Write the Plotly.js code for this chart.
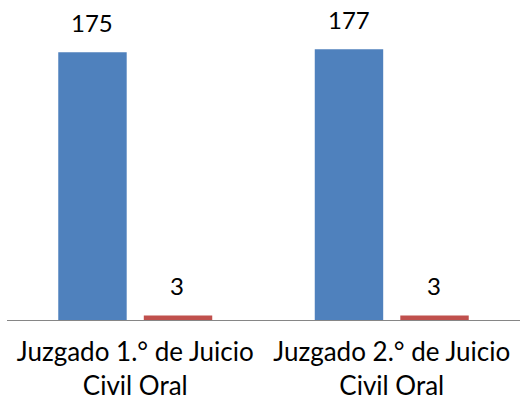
<!DOCTYPE html>
<html>
<head>
<meta charset="utf-8">
<script src="https://cdn.plot.ly/plotly-3.0.1.min.js"></script>
<style>html,body{margin:0;padding:0;background:#fff}#chart{width:520px;height:407px}</style>
</head>
<body>
<div id="chart"></div>
<script>
const categories = ["Juzgado 1.° de Juicio<br>Civil Oral", "Juzgado 2.° de Juicio<br>Civil Oral"];
const seriesA = [175, 177];
const seriesB = [3, 3];
const seriesColors = ['#4F81BD', '#C0504D'];
const seriesShift = [-43, 42];

const FONT = 'Lato, "Open Sans", sans-serif';
const data = [seriesA, seriesB].map((vals, i) => ({
  type: 'bar', x: categories, y: vals, name: 'S' + i,
  marker: {color: seriesColors[i]}, hoverinfo: 'none'
}));
const annotations = [];
[seriesA, seriesB].forEach((vals, i) => {
  vals.forEach((v, j) => {
    annotations.push({x: categories[j], y: v, xref: 'x', yref: 'y', text: String(v), showarrow: false,
      xshift: seriesShift[i], yshift: 13, yanchor: 'bottom',
      font: {family: FONT, size: 24, color: '#000'}});
  });
});
const layout = {
  width: 520, height: 407,
  margin: {l: 7, r: 0, t: 14, b: 87},
  barmode: 'group',
  bargap: 0.333,
  bargroupgap: 0.2,
  showlegend: false,
  paper_bgcolor: '#fff', plot_bgcolor: '#fff',
  font: {family: FONT, size: 24, color: '#000'},
  annotations: annotations,
  xaxis: {showline: true, linecolor: '#868686', linewidth: 1, ticks: '', showgrid: false, zeroline: false,
          tickfont: {size: 26}, ticklabelstandoff: 9},
  yaxis: {range: [0, 200], visible: false, showgrid: false, zeroline: false}
};
Plotly.newPlot('chart', data, layout, {displayModeBar: false, staticPlot: true});
</script>
</body>
</html>
